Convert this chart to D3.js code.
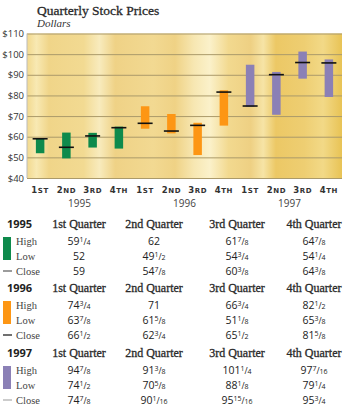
<!DOCTYPE html>
<html><head><meta charset="utf-8">
<script src="https://cdn.jsdelivr.net/npm/d3@7"></script>
<style>body{margin:0;background:#fff}svg{display:block}</style>
</head><body>
<svg id="c" width="343" height="411"></svg>
<script>
// ---- data ----
const years = ["1995", "1996", "1997"];
const quarterLabels = ["1st", "2nd", "3rd", "4th"];
const quarterHeads = ["1st Quarter", "2nd Quarter", "3rd Quarter", "4th Quarter"];
const rowLabels = ["High", "Low", "Close"];
const high1995 = [59.25, 62, 61.875, 64.875];
const low1995 = [52, 49.5, 54.75, 54.25];
const close1995 = [59, 54.875, 60.375, 64.375];
const high1996 = [74.75, 71, 66.75, 82.5];
const low1996 = [63.875, 61.625, 51.125, 65.375];
const close1996 = [66.5, 62.75, 65.5, 81.625];
const high1997 = [94.875, 91.375, 101.25, 97.4375];
const low1997 = [74.5, 70.625, 88.125, 79.25];
const close1997 = [74.875, 90.0625, 95.9375, 95.75];
const yTicks = [40, 50, 60, 70, 80, 90, 100, 110];

// ---- styles ----
const yearColors = ["#0e8a4c", "#fd9614", "#8b80b6"];
const legendCloseColors = ["#666", "#222", "#b0b0b0"];
const sans = "'Open Sans', 'Liberation Sans', sans-serif";
const serif = "'Liberation Serif', 'DejaVu Serif', serif";

const highs = [high1995, high1996, high1997];
const lows = [low1995, low1996, low1997];
const closes = [close1995, close1996, close1997];

const rows = [];
years.forEach((yr, i) => quarterLabels.forEach((q, j) => rows.push({
  key: yr + "-" + q, year: yr, yi: i, q: q, qi: j,
  high: highs[i][j], low: lows[i][j], close: closes[i][j]
})));

const svg = d3.select("#c");
const L = 27, R = 342, T = 33.5, B = 178;
const x = d3.scaleBand().domain(rows.map(d => d.key)).range([L, R]);
const y = d3.scaleLinear().domain([40, 110]).range([B, T]);

// title
svg.append("text").attr("x", 37).attr("y", 15).attr("font-family", serif)
  .attr("font-size", 13.5).attr("fill", "#2a2a2a").attr("stroke", "#2a2a2a").attr("stroke-width", 0.3)
  .text("Quarterly Stock Prices");
svg.append("text").attr("x", 37).attr("y", 27).attr("font-family", serif)
  .attr("font-size", 11).attr("font-style", "italic").attr("fill", "#333")
  .text("Dollars");

// background gradient
const defs = svg.append("defs");
const g = defs.append("linearGradient").attr("id", "bg").attr("x1", 0).attr("x2", 1).attr("y1", 0).attr("y2", 0);
[[0, "#f2d98e"], [0.03, "#f8e9b3"], [0.07, "#f0d589"], [0.18, "#f2da92"], [0.23, "#f8ebbd"], [0.28, "#efd286"],
 [0.4, "#f2d992"], [0.47, "#efd285"], [0.53, "#f7e7b2"], [0.58, "#fbf1ca"], [0.64, "#f2d98f"], [0.71, "#eed083"],
 [0.75, "#f6e4a6"], [0.79, "#ecc865"], [0.88, "#eece72"], [0.94, "#f2d987"], [1, "#e8c355"]]
  .forEach(s => g.append("stop").attr("offset", s[0]).attr("stop-color", s[1]));
svg.append("rect").attr("x", L).attr("y", T).attr("width", R - L).attr("height", B - T).attr("fill", "url(#bg)");

// grid
svg.append("g").attr("transform", `translate(${L},0)`)
  .call(d3.axisLeft(y).tickValues(yTicks).tickSize(-(R - L)).tickFormat(""))
  .call(a => a.select(".domain").remove())
  .call(a => a.selectAll("line").attr("stroke", "#ab9a6a").attr("stroke-width", 1));
svg.append("line").attr("x1", L).attr("x2", L).attr("y1", T).attr("y2", B).attr("stroke", "#bbb").attr("stroke-width", 1);

// y labels
svg.append("g").attr("transform", `translate(${L - 2},0)`)
  .call(d3.axisLeft(y).tickValues(yTicks).tickSize(0).tickPadding(1).tickFormat(d => "$" + d))
  .call(a => a.select(".domain").remove())
  .call(a => a.selectAll("text").attr("font-family", sans).attr("font-size", 9.5).attr("fill", "#333"));

// bars
const bw = 8.5, cw = 15;
svg.append("g").selectAll("rect").data(rows).join("rect")
  .attr("x", d => x(d.key) + x.bandwidth() / 2 - bw / 2)
  .attr("width", bw)
  .attr("y", d => y(d.high))
  .attr("height", d => y(d.low) - y(d.high))
  .attr("fill", d => yearColors[d.yi]);
svg.append("g").selectAll("line").data(rows).join("line")
  .attr("x1", d => x(d.key) + x.bandwidth() / 2 - cw / 2)
  .attr("x2", d => x(d.key) + x.bandwidth() / 2 + cw / 2)
  .attr("y1", d => y(d.close)).attr("y2", d => y(d.close))
  .attr("stroke", "#111").attr("stroke-width", 1.6);

// x labels
const ql = svg.append("g").selectAll("text").data(rows).join("text")
  .attr("x", d => x(d.key) + x.bandwidth() / 2).attr("y", 193)
  .attr("text-anchor", "middle").attr("font-family", "'DejaVu Sans', sans-serif").attr("font-weight", "bold")
  .attr("fill", "#333").attr("letter-spacing", 0.6);
ql.append("tspan").attr("font-size", 8.5).text(d => d.q[0]);
ql.append("tspan").attr("font-size", 7).text(d => d.q.slice(1).toUpperCase());
svg.append("g").selectAll("text").data(years).join("text")
  .attr("x", (yr) => (x(yr + "-2nd") + x(yr + "-3rd")) / 2 + x.bandwidth() / 2)
  .attr("y", 207).attr("text-anchor", "middle").attr("font-family", sans)
  .attr("font-size", 10).attr("fill", "#444").text(d => d);

// table
function gcd(a, b) { return b ? gcd(b, a % b) : a; }
function frac(v) {
  const w = Math.floor(v); let n = Math.round((v - w) * 16), d = 16;
  if (n === 0) return [w, 0, 0];
  const k = gcd(n, d); return [w, n / k, d / k];
}
const colX = [79, 154, 237, 314];
const secY = [228, 292, 357];
years.forEach((yr, i) => {
  const y0 = secY[i];
  svg.append("text").attr("x", 7).attr("y", y0).attr("font-family", sans).attr("font-weight", "bold")
    .attr("font-size", 11).attr("fill", "#222").text(yr);
  svg.append("g").selectAll("text").data(quarterHeads).join("text")
    .attr("x", (d, j) => colX[j]).attr("y", y0).attr("text-anchor", "middle")
    .attr("font-family", serif).attr("font-size", 12).attr("fill", "#2a2a2a")
    .attr("stroke", "#2a2a2a").attr("stroke-width", 0.3)
    .text(d => d);
  // legend
  svg.append("rect").attr("x", 3).attr("y", y0 + 9).attr("width", 8).attr("height", 23).attr("fill", yearColors[i]);
  svg.append("line").attr("x1", 3).attr("x2", 12).attr("y1", y0 + 43).attr("y2", y0 + 43)
    .attr("stroke", legendCloseColors[i]).attr("stroke-width", 1.3);
  const series = [highs[i], lows[i], closes[i]];
  rowLabels.forEach((lab, r) => {
    const ry = y0 + 17 + r * 15;
    svg.append("text").attr("x", 16).attr("y", ry).attr("font-family", serif)
      .attr("font-size", 10.5).attr("fill", "#444").text(lab);
    const t = svg.append("g").selectAll("text").data(series[r]).join("text")
      .attr("x", (d, j) => colX[j]).attr("y", ry).attr("text-anchor", "middle")
      .attr("font-family", sans).attr("font-size", 10.5).attr("fill", "#222");
    t.each(function (v) {
      const [w, n, dd] = frac(v);
      const s = d3.select(this);
      s.append("tspan").text(w);
      if (n) {
        s.append("tspan").attr("font-size", 7).attr("dy", -3.5).text(n);
        s.append("tspan").attr("font-size", 8.5).attr("dy", 3.5).text("/");
        s.append("tspan").attr("font-size", 7).text(dd);
      }
    });
  });
});
</script>
</body></html>
